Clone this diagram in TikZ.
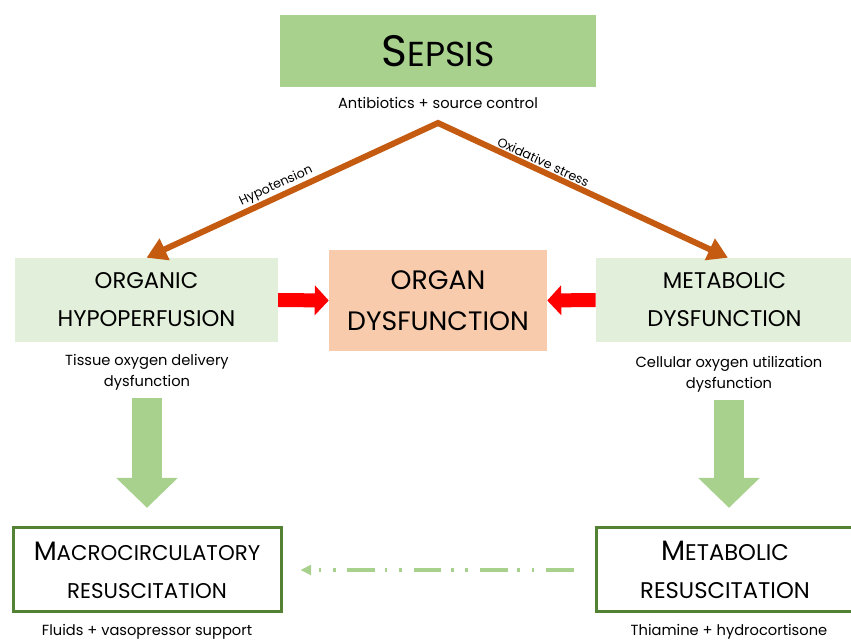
\documentclass[tikz,border=0pt]{standalone}
\usepackage{fontspec}
\setmainfont{Poppins}
\usetikzlibrary{arrows.meta,positioning}
\definecolor{leafgreen}{HTML}{A9D18E}
\definecolor{palegreen}{HTML}{E2EFDA}
\definecolor{peach}{HTML}{F8CBAD}
\definecolor{rust}{HTML}{C55A11}
\definecolor{darkleaf}{HTML}{548235}
\newcommand{\fs}[2]{\fontsize{#1}{#2}\selectfont}

\begin{document}
\begin{tikzpicture}[x=0.75pt,y=-0.75pt,every node/.style={align=center,inner sep=0pt,font=\fs{11}{15.75}},
 bigbox/.style={minimum height=63pt,font=\fs{17}{28.5}},
 resbox/.style={draw=darkleaf,line width=2.25pt,fill=white,minimum height=63pt,font=\fs{17}{28.5}},
 orarr/.style={draw=rust,line width=4.5pt,{Triangle[length=15pt,width=17pt]}-{Triangle[length=15pt,width=17pt]}},
 redarr/.style={draw=red,line width=10.5pt,-{Triangle[length=10.5pt,width=22pt]}},
 downarr/.style={draw=leafgreen,line width=22.5pt,-{Triangle[length=22.5pt,width=45pt]}},
 dotarr/.style={draw=leafgreen,line width=2.4pt,dash pattern=on 20.8pt off 8.8pt on 2pt off 8.8pt on 2pt off 7.3pt,-{Triangle[length=8pt,width=7.5pt]}}]
\useasboundingbox (0,0) rectangle (851,641);
\node[fill=leafgreen,minimum width=237pt,minimum height=54pt] (sepsis) at (438,51) {\fs{33}{36}S\fs{26}{30}EPSIS};
\node (abx) at (438,103) {Antibiotics + source control};
\coordinate (apex) at (438,123);
\node[bigbox,fill=palegreen,minimum width=197pt] (hypo) at (146.5,300) {ORGANIC\\HYPOPERFUSION};
\node[bigbox,fill=peach,minimum width=163.5pt,minimum height=75.75pt,font=\fs{20}{31}] (organ) at (438,300.5) {ORGAN\\DYSFUNCTION};
\node[bigbox,fill=palegreen,minimum width=193pt] (metab) at (724.5,300) {METABOLIC\\DYSFUNCTION};
\node (tissue) at (147,372) {Tissue oxygen delivery\\dysfunction};
\node (cell) at (729,374) {Cellular oxygen utilization\\dysfunction};
\node[resbox,minimum width=201pt,font=\fs{16}{28.5}] (macro) at (147,570) {\fs{20}{28.5}M\fs{16}{28.5}ACROCIRCULATORY\\RESUSCITATION};
\node[resbox,minimum width=193pt] (metres) at (725,570) {\fs{21}{28.5}M\fs{17}{28.5}ETABOLIC\\RESUSCITATION};
\node (fluids) at (147,632) {Fluids + vasopressor support};
\node (thia) at (729,632) {Thiamine + hydrocortisone};
\draw[orarr] (hypo.north) -- node[pos=0.46,sloped,above=1pt,font=\fs{9.5}{11}]{Hypotension} (apex)
  -- node[pos=0.35,sloped,above=1pt,font=\fs{9.5}{11}]{Oxidative stress} ([xshift=2.6pt]metab.north);
\draw[redarr] (hypo.east) -- (organ.west);
\draw[redarr] (metab.west) -- (organ.east);
\draw[downarr,shorten <=6pt,shorten >=14pt] (tissue.south) -- (tissue.south |- macro.north);
\draw[downarr,shorten <=6pt,shorten >=14pt] (cell.south) -- (cell.south |- metres.north);
\draw[dotarr,shorten <=15.75pt,shorten >=13.5pt] (metres.west) -- (macro.east);
\end{tikzpicture}
\end{document}
